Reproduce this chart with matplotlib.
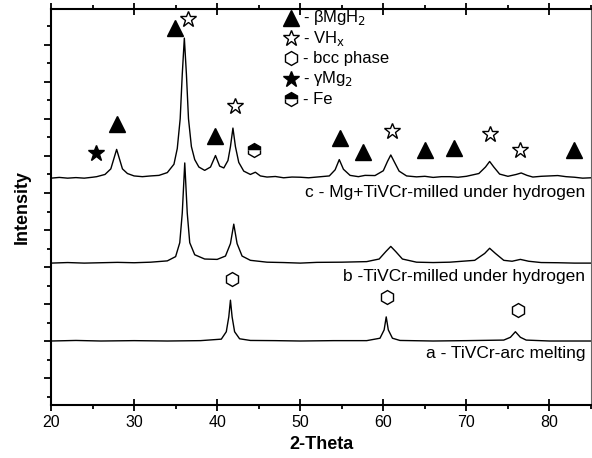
import numpy as np
import matplotlib.pyplot as plt
from matplotlib.ticker import MultipleLocator

plt.rcParams['font.family'] = ['Liberation Sans', 'DejaVu Sans']

# ---- digitised XRD patterns (2-theta, intensity above own baseline) ----
c_theta = [20, 21, 22, 23, 24, 25, 25.5, 26.5, 27.2, 27.6, 27.9, 28.2, 28.6, 29.2, 30, 31, 32, 33, 34,
           34.8, 35.2, 35.55, 35.8, 36.05, 36.3, 36.55, 36.9, 37.3, 37.8, 38.5, 39.2, 39.8, 40.3, 40.8,
           41.3, 41.6, 41.9, 42.2, 42.6, 43.2, 44.0, 44.6, 45.2, 46, 47, 48, 49, 50, 51, 52, 53.5, 54.2,
           54.7, 55.2, 56, 57, 57.8, 59, 60, 60.5, 60.9, 61.3, 61.9, 62.8, 64, 65, 66, 67, 68, 69, 70,
           71.5, 72.3, 72.8, 73.3, 74, 75, 76, 76.6, 77.3, 78, 79, 80, 81, 82, 83, 84, 85]
c_int = [0.0, 0.04, 0.0, 0.03, 0.0, 0.05, 0.08, 0.2, 0.5, 1.1, 1.55, 1.1, 0.5, 0.25, 0.12, 0.08, 0.12, 0.15, 0.3,
         0.75, 1.6, 3.2, 5.6, 7.55, 5.6, 3.2, 1.7, 1.0, 0.6, 0.42, 0.6, 1.22, 0.65, 0.55,
         0.95, 1.7, 2.7, 1.7, 0.85, 0.38, 0.2, 0.32, 0.12, 0.06, 0.09, 0.02, 0.06, 0.05, 0.02, 0.06, 0.12, 0.45,
         1.0, 0.48, 0.15, 0.08, 0.15, 0.14, 0.4, 0.9, 1.25, 0.9, 0.38, 0.12, 0.07, 0.1, 0.04, 0.08, 0.08, 0.05, 0.1,
         0.25, 0.6, 0.9, 0.6, 0.22, 0.1, 0.2, 0.28, 0.15, 0.06, 0.1, 0.12, 0.14, 0.08, 0.05, 0.0, 0.02]

b_theta = [20, 22, 24, 26, 28, 30, 32, 34, 35, 35.5, 35.8, 36.1, 36.4, 36.7, 37.3, 38.5, 40, 41, 41.6,
           42.0, 42.4, 43, 44, 46, 48, 50, 52, 55, 58, 59.5, 60.3, 60.9, 61.5, 62.3, 64, 66, 68, 71,
           72.2, 72.8, 73.5, 74.5, 75.5, 76.5, 77.5, 79, 81, 83, 85]
b_int = [0.0, 0.03, 0.0, 0.02, 0.04, 0.02, 0.05, 0.12, 0.35, 1.1, 2.7, 5.4, 2.7, 1.1, 0.45, 0.22, 0.2, 0.38, 1.05,
         2.1, 1.05, 0.38, 0.15, 0.05, 0.03, 0.0, 0.04, 0.05, 0.08, 0.22, 0.62, 0.9, 0.62, 0.22, 0.05, 0.03, 0.05, 0.15,
         0.52, 0.8, 0.52, 0.15, 0.1, 0.2, 0.1, 0.03, 0.02, 0.0, 0.0]

a_theta = [20, 23, 26, 30, 34, 38, 40.5, 41.1, 41.4, 41.6, 41.8, 42.1, 42.7, 44, 47, 50, 54, 58, 59.6,
           60.1, 60.35, 60.6, 61.1, 62, 66, 70, 74.5, 75.3, 75.9, 76.5, 77.2, 80, 85]
a_int = [0.0, 0.03, 0.0, 0.02, 0.0, 0.02, 0.1, 0.5, 1.3, 2.2, 1.3, 0.5, 0.12, 0.03, 0.02, 0.0, 0.02, 0.02, 0.15,
         0.6, 1.3, 0.6, 0.15, 0.03, 0.0, 0.02, 0.05, 0.2, 0.5, 0.2, 0.05, 0.0, 0.0]

offsets = [11.8, 7.22, 3.02]   # c, b, a
labels = ['c - Mg+TiVCr-milled under hydrogen', 'b -TiVCr-milled under hydrogen', 'a - TiVCr-arc melting']
label_y = [11.0, 6.5, 2.35]

# ---- phase markers ----
mgh2_x = [27.9, 34.9, 39.7, 54.8, 57.5, 65.0, 68.5, 83.0]
mgh2_y = [14.72, 19.89, 14.07, 13.96, 13.21, 13.32, 13.42, 13.32]
vhx_x = [36.5, 42.1, 61.0, 72.8, 76.5]
vhx_y = [20.38, 15.69, 14.34, 14.18, 13.32]
bcc_x = [41.8, 60.4, 76.2]
bcc_y = [6.36, 5.39, 4.69]
mg2_x = [25.4]
mg2_y = [13.15]
fe_x = [44.4]
fe_y = [13.32]

fig = plt.figure(figsize=(5.92, 4.58), dpi=100)
ax = fig.add_axes([51 / 592, 53 / 458, 540 / 592, 396 / 458])

for th, inten, off in zip([c_theta, b_theta, a_theta], [c_int, b_int, a_int], offsets):
    ax.plot(th, np.array(inten) + off, color='black', lw=1.0)

for txt, yy in zip(labels, label_y):
    ax.text(84.3, yy, txt, ha='right', va='center', fontsize=12.5)

ax.plot(mgh2_x, mgh2_y, ls='none', marker='^', ms=11, color='black')
ax.plot(vhx_x, vhx_y, ls='none', marker='*', ms=12, mfc='white', mec='black', mew=1.0)
ax.plot(bcc_x, bcc_y, ls='none', marker='h', ms=10, mfc='white', mec='black', mew=1.0)
ax.plot(mg2_x, mg2_y, ls='none', marker='*', ms=12, color='black')
ax.plot(fe_x, fe_y, ls='none', marker='h', ms=10, fillstyle='top', mfc='black', mfcalt='white',
        mec='black', mew=1.0)

# legend drawn as markers + text
leg_x, leg_tx = 48.9, 50.3
leg_rows = [20.45, 19.35, 18.27, 17.15, 16.05]
ax.plot(leg_x, leg_rows[0], marker='^', ms=11, color='black', clip_on=False)
ax.plot(leg_x, leg_rows[1], marker='*', ms=12, mfc='white', mec='black', mew=1.0)
ax.plot(leg_x, leg_rows[2], marker='h', ms=10, mfc='white', mec='black', mew=1.0)
ax.plot(leg_x, leg_rows[3], marker='*', ms=12, color='black')
ax.plot(leg_x, leg_rows[4], marker='h', ms=10, fillstyle='top', mfc='black', mfcalt='white',
        mec='black', mew=1.0)
leg_txt = [r'- βMgH$_2$', r'- VH$_\mathrm{x}$', '- bcc phase', r'- γMg$_2$', '- Fe']
for t, yy in zip(leg_txt, leg_rows):
    ax.text(leg_tx, yy, t, ha='left', va='center', fontsize=12)

ax.set_xlim(20, 85)
ax.set_ylim(-0.43, 20.92)
ax.xaxis.set_major_locator(MultipleLocator(10))
ax.xaxis.set_minor_locator(MultipleLocator(5))
ax.set_yticks(np.arange(1, 21, 2))
ax.set_yticks(np.arange(0, 21, 2), minor=True)
ax.tick_params(axis='y', which='major', direction='out', length=5, width=1.3, labelleft=False)
ax.tick_params(axis='y', which='minor', direction='out', length=3, width=1.3)
ax.tick_params(axis='x', which='major', direction='out', length=5, width=1.3, labelsize=11.5)
ax.tick_params(axis='x', which='minor', direction='out', length=3, width=1.3)
ax.tick_params(axis='x', which='both', top=True)
ax.xaxis.set_tick_params(which='major', direction='inout', length=8)

for s in ['left', 'bottom', 'top']:
    ax.spines[s].set_linewidth(1.5)
ax.spines['right'].set_linewidth(0.8)
ax.spines['right'].set_linestyle((0, (2, 1)))
ax.spines['right'].set_color('#666666')

ax.set_xlabel('2-Theta', fontsize=13, fontweight='bold', labelpad=4)
ax.set_ylabel('Intensity', fontsize=13, fontweight='bold', labelpad=8)

fig.savefig('out.png', dpi=100)
